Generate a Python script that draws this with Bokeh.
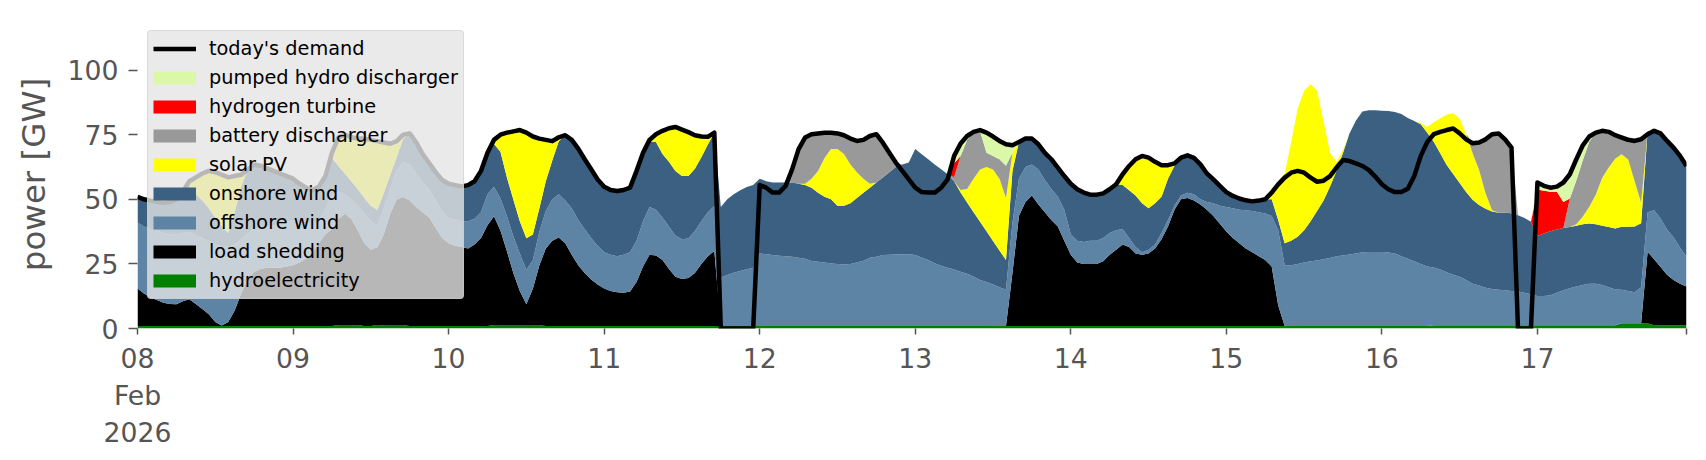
import pandas as pd
from bokeh.plotting import figure
from bokeh.models import Legend, LegendItem, FixedTicker, ColumnDataSource, Range1d
from bokeh.embed import file_html
from bokeh.resources import INLINE

# hourly values, 8 Feb 2026 00:00 .. 17 Feb 2026 23:00 (GW), one row per day
demand = [
    51, 50, 49.5, 49, 48.7, 49, 50, 53, 57, 58.5, 60, 61, 60.5, 59.5, 58.5, 59, 59.5, 61.5, 63.5, 63, 62, 61, 60, 59,
    58, 56, 54.5, 53.5, 55, 59, 68, 74, 75, 74, 73.5, 73.5, 73, 72.5, 72, 71.5, 72.5, 75, 75.5, 72, 67.5, 64, 60.5, 57.5,
    56, 55.5, 55, 55.5, 57, 61, 68, 73, 75, 75.8, 76.3, 76.8, 75.8, 74.3, 73.5, 73, 72.5, 74, 74.8, 73, 69.6, 65.5, 61.6, 57.7,
    54.9, 53.6, 53.2, 53.6, 54.5, 61, 68, 73, 75.2, 76.5, 77.5, 78, 77, 76, 74.8, 74.3, 74.2, 75.8, 0, 0, 0, 0, 0, 0,
    55.5, 54.5, 52.6, 52.6, 55.2, 61.6, 69.4, 73.9, 75.2, 75.5, 75.8, 75.8, 75.5, 74.8, 73.5, 72.6, 73, 74.5, 75.2, 71.9, 68, 64.2, 61, 57.7,
    54.5, 52.8, 52.6, 52.6, 54.5, 57.7, 66.8, 71.6, 74.5, 76.1, 76.8, 75.8, 74.3, 72.6, 71.3, 70.9, 72.2, 73.5, 73.5, 71.3, 68, 65.5, 62.3, 59,
    56, 53.9, 52.6, 51.8, 51.8, 52.3, 53.9, 55.8, 59.7, 62.9, 65.5, 66.8, 66.1, 64.5, 63.2, 63.2, 63.9, 66.1, 67, 66, 63.5, 60, 57.7, 55.2,
    52.8, 51.3, 50.3, 49.6, 49.2, 49.5, 50, 52.6, 55.8, 58.4, 60.3, 61, 60.3, 58.4, 56.8, 57.2, 59, 62.3, 65.2, 64.8, 63.9, 62.9, 61.3, 58.7,
    55.8, 53.9, 52.8, 52.8, 54.1, 59, 66.8, 72.2, 75.2, 76.1, 76.8, 77.4, 75.5, 73.2, 71.7, 72, 73.2, 75.2, 75.5, 73.2, 70, 0, 0, 0,
    56.5, 55.2, 54.5, 54.9, 56.5, 59.7, 65.5, 70.9, 74.3, 75.8, 76.5, 76.1, 74.8, 73.9, 73, 72.6, 73.2, 75.2, 76.5, 75.5, 72.6, 70, 66.8, 62.9,
]

hydroelectricity = [
    1, 1, 1, 1, 1, 1, 1, 1, 1, 1, 1, 1, 1, 1, 1, 1, 1, 1, 1, 1, 1, 1, 1, 1,
    1, 1, 1, 1, 1, 1, 1, 1.4, 1.4, 1.4, 1.4, 1, 1, 1.4, 1.4, 1.4, 1.4, 1.4, 1, 1, 1, 1, 1, 1,
    1, 1, 1, 1, 1, 1, 1, 1.4, 1.4, 1.4, 1.4, 1.4, 1.4, 1.4, 1.4, 1, 1, 1, 1, 1, 1, 1, 1, 1,
    1, 1, 1, 1, 1, 1, 1, 1, 1, 1, 1, 1, 1, 1, 1, 1, 1, 1, 1, 1, 1, 1, 1, 1,
    1, 1, 1, 1, 1, 1, 1, 1, 1, 1, 1, 1, 1, 1, 1, 1, 1, 1, 1, 1, 1, 1, 1, 1,
    1, 1, 1, 1, 1, 1, 1, 1, 1, 1, 1, 1, 1, 1, 1, 1, 1, 1, 1, 1, 1, 1, 1, 1,
    1, 1, 1, 1, 1, 1, 1, 1, 1, 1, 1, 1, 1, 1, 1, 1, 1, 1, 1, 1, 1, 1, 1, 1,
    1, 1, 1, 1, 1, 1, 1, 1, 1, 1, 1, 1, 1, 1, 1, 1, 1, 1, 1, 1, 1, 1, 1, 1,
    1, 1, 1, 1, 1, 1, 1, 1, 1.3, 1.3, 1.3, 1.3, 1.3, 1.3, 1.3, 1.3, 1.3, 1.3, 1.3, 1.3, 1.3, 1.3, 1.3, 1.3,
    1.3, 1.3, 1.3, 1.3, 1.3, 1.3, 1.3, 1.3, 1.3, 1.3, 1.3, 1.3, 1.3, 2, 2, 2, 2, 2, 1.3, 1.3, 1.3, 1.3, 1.3, 1.3,
]

load_shedding = [
    14.5, 12.5, 11, 10, 9, 8.5, 8.4, 9.5, 10.3, 8.5, 6.5, 4.5, 1.5, 0.2, 1.5, 6, 12.5, 18, 21, 22, 22.5, 22.5, 22.5, 23,
    23.5, 24.5, 26, 28.5, 32, 35.5, 37.5, 41, 43, 41, 36.5, 32, 29.5, 30, 35, 43, 48.5, 49.5, 48.5, 46, 44, 42, 38, 34,
    32, 31, 30.5, 30, 31.5, 34, 39, 42, 36.5, 28.5, 20, 13, 8, 14, 23, 30, 33, 34.2, 32, 27.5, 23.5, 20.5, 18, 16,
    14.5, 13.5, 13, 12.8, 13.3, 17, 23, 27.5, 27.3, 25.5, 22, 19, 18.2, 18.5, 20.5, 24, 27, 29, 0, 0, 0, 0, 0, 0,
    0, 0, 0, 0, 0, 0, 0, 0, 0, 0, 0, 0, 0, 0, 0, 0, 0, 0, 0, 0, 0, 0, 0, 0,
    0, 0, 0, 0, 0, 0, 0, 0, 0, 0, 0, 0, 0, 0, 0, 20.5, 42.5, 48, 50.5, 47, 44, 41, 38.5, 33,
    27.5, 24.5, 24, 24, 24, 25, 27.5, 29.5, 31.5, 30.5, 28, 27.5, 28, 30, 33.5, 38.5, 45, 49, 49.5, 48.5, 47, 45, 42.5, 39.5,
    36.5, 34, 32, 30, 28.5, 27, 25.5, 23, 8, 0, 0, 0, 0, 0, 0, 0, 0, 0, 0, 0, 0, 0, 0, 0,
    0, 0, 0, 0, 0, 0, 0, 0, 0, 0, 0, 0, 0, 0, 0, 0, 0, 0, 0, 0, 0, 0, 0, 0,
    0, 0, 0, 0, 0, 0, 0, 0, 0, 0, 0, 0, 0, 0, 0, 0, 0, 27.7, 25.5, 22.5, 19.5, 17.5, 16, 15,
]

offshore_wind = [
    25.5, 26, 26.5, 27, 27, 27, 27, 26.5, 26, 26.5, 27.5, 28.5, 30, 30.5, 29, 25.5, 21, 18, 16.5, 16, 16, 16.5, 17, 17,
    17.5, 15.5, 13.5, 11, 9, 9.5, 13.5, 10.5, 7.5, 7.5, 9.5, 11.5, 11, 8.5, 10, 9.5, 11.5, 13.5, 14, 13, 11.5, 11, 10.5, 10.5,
    10, 10, 10, 10.5, 10, 10, 12, 11.5, 12.5, 13.5, 14.2, 14.5, 13.3, 11, 13, 14.5, 16, 16.8, 16.5, 18, 17.5, 17, 16, 15,
    14, 14, 14, 14.7, 15.2, 16, 17.5, 18.5, 17.7, 16.5, 16.5, 16, 15.3, 15.3, 16.2, 16.5, 17, 17.4, 18.7, 19.7, 20.6, 21.3, 21.9, 22.5,
    28, 27.7, 27.4, 27.2, 27, 26.8, 26.4, 26, 25.1, 24.8, 24.5, 24.2, 24, 23.8, 24, 24.5, 25.2, 26.4, 26.8, 27.4, 27.5, 27.6, 27.7, 27.7,
    27.4, 26.5, 25.5, 24.3, 23.3, 22.5, 21.8, 21, 20.2, 19, 17.8, 17, 16, 15, 14, 19.5, 14.5, 13.5, 12, 13.5, 12.5, 12, 11.5, 12,
    8, 8.5, 8.5, 9, 9, 9, 8.5, 7.5, 6, 3.5, 2.5, 1, 1.5, 1.5, 2.5, 2.5, 1.5, 1.5, 2, 2.5, 2, 3, 5, 7,
    9.5, 11.5, 13, 14.8, 16, 17, 18, 19.5, 29, 23.5, 23.5, 24, 24.5, 25, 25.3, 25.8, 26.3, 27, 27.3, 27.6, 28, 28.5, 28.6, 28.6,
    28.6, 28.4, 28, 27, 26, 25, 24, 23, 22.3, 21.5, 20.5, 19.5, 18.7, 17.5, 16, 15.3, 14.5, 14, 13.7, 13.5, 13.2, 13, 12.5, 12,
    11.3, 11.3, 11.6, 12.5, 13.5, 14.3, 15, 15.5, 16, 16, 15.5, 14.7, 13.8, 13, 12.5, 12, 14, 15.3, 19, 18.8, 17.5, 16.5, 14, 11.5,
]

onshore_wind = [
    10, 10.5, 11, 11, 11.7, 12.5, 13.6, 16, 17.7, 16, 14.5, 12.5, 10.5, 7.8, 5.5, 12.5, 20.5, 24.5, 25, 24, 22.5, 21, 19.5, 18,
    16, 15, 14, 13, 13, 13, 14, 10, 8, 7, 6.5, 6, 6, 6, 6, 5.5, 5, 9, 12, 12, 11, 10, 11, 12,
    13, 13.5, 13.5, 14, 14.5, 16, 16, 16.5, 18, 15, 14.2, 12.5, 12.2, 10, 9, 11.5, 15, 20.5, 25.3, 26.5, 27.6, 27, 26.6, 25.7,
    25.4, 25.1, 25.2, 25.1, 25, 27, 26.5, 25.5, 26.2, 24.5, 25, 25, 24.5, 24.2, 24.1, 24.8, 26.2, 28.4, 27.3, 29.3, 30.4, 31.2, 31.9, 32,
    29, 28.3, 28.1, 28.3, 28.5, 28.7, 28.6, 28.5, 28.4, 26.7, 25.5, 24.8, 22.5, 22.7, 23.5, 25, 26.3, 27.1, 28.7, 30, 32, 33.9, 34.8, 35.5,
    41.1, 39.9, 39, 38.2, 37.3, 36.2, 34.2, 30.6, 27.6, 25, 22.5, 19.6, 16.9, 14.2, 11.5, 20, 14.2, 11, 10, 9.8, 10.5, 11.5, 11.3, 13,
    19.5, 19.9, 19.1, 17.8, 17.8, 17.3, 16.9, 17.8, 17, 18.5, 20, 19, 16, 16, 14, 16, 15.5, 14.6, 14.5, 14, 13.5, 11, 9.2, 7.7,
    5.8, 4.8, 4.3, 3.8, 3.7, 4.5, 5.5, 6.5, 4, 8.5, 9.5, 10.5, 12.5, 15.5, 19.2, 22.7, 27.7, 33, 39.7, 46.9, 51.5, 54.5, 54.9, 54.9,
    54.7, 54.8, 54.8, 55, 54.5, 54.3, 54, 51.8, 48.7, 45, 41.5, 39, 36.3, 34, 32.5, 31.2, 30.5, 30, 29.8, 30, 30.1, 29.5, 29, 28,
    23.2, 24.2, 24.7, 24.5, 24.1, 23.7, 23.5, 23.5, 23.3, 23, 23, 23.3, 23.6, 24.4, 24.9, 25.5, 24.7, 31.2, 31, 33.2, 34.6, 35, 35.8, 35.4,
]

solar_pv = [
    0, 0, 0, 0, 0, 0, 0, 0, 2, 6.5, 10.5, 14.5, 17.5, 20, 21.5, 14, 4.5, 0, 0, 0, 0, 0, 0, 0,
    0, 0, 0, 0, 0, 0, 2, 11.5, 15.5, 17.5, 20, 23, 25.5, 27, 20, 12.5, 6.5, 2, 0, 0, 0, 0, 0, 0,
    0, 0, 0, 0, 0, 0, 0, 2, 7, 17.8, 27, 35.8, 41.3, 38.3, 27.5, 16, 7.5, 1.5, 0, 0, 0, 0, 0, 0,
    0, 0, 0, 0, 0, 0, 0, 0.5, 3, 9, 13, 17, 18, 17, 13, 8, 3, 0, 0, 0, 0, 0, 0, 0,
    0, 0, 0, 0, 0, 0, 0, 0.5, 3.5, 8.5, 15, 19.5, 22, 20, 15, 10, 5.5, 1.5, 0, 0, 0, 0, 0, 0,
    0, 0, 0, 0, 0, 0, 0, 1, 5.2, 13, 20.2, 24.9, 27.6, 27.8, 24, 7, 0, 0, 0, 0, 0, 0, 0, 0,
    0, 0, 0, 0, 0, 0, 0, 0, 4.2, 9.4, 14, 18.3, 19.6, 16, 12.2, 5.2, 0.9, 0, 0, 0, 0, 0, 0, 0,
    0, 0, 0, 0, 0, 0, 0, 2.6, 14.5, 27, 38, 49.5, 54, 53, 46.5, 30.5, 13, 3.5, 1, 0, 0, 0, 0, 0,
    0, 0, 0, 0, 0, 0, 0.5, 2.2, 7.5, 13.5, 19.5, 23.5, 25, 22.5, 18, 13.5, 6, 0.5, 0, 0, 0, 0, 0, 0,
    0, 0, 0, 0, 0, 0, 0.5, 3, 6.5, 11.5, 18.5, 23, 27, 28, 26, 17.5, 8, 0, 0, 0, 0, 0, 0, 0,
]

battery_discharger = [
    0, 0, 0, 0, 0, 0, 0, 0, 0, 0, 0, 0, 0, 0, 0, 0, 0, 0, 0, 0, 0, 0, 0, 0,
    0, 0, 0, 0, 0, 0, 0, 0, 0, 0, 0, 0, 0, 0, 0, 0, 0, 0, 0, 0, 0, 0, 0, 0,
    0, 0, 0, 0, 0, 0, 0, 0, 0, 0, 0, 0, 0, 0, 0, 0, 0, 0, 0, 0, 0, 0, 0, 0,
    0, 0, 0, 0, 0, 0, 0, 0, 0, 0, 0, 0, 0, 0, 0, 0, 0, 0, 0, 0, 0, 0, 0, 0,
    0, 0, 0, 0, 0, 5.1, 13.4, 17.9, 17.2, 14.5, 9.8, 6.3, 6, 7.3, 10, 12.1, 15, 18.5, 18.7, 13.5, 7.5, 1.7, 0, 0,
    0, 0, 0, 0, 0, 0, 1.5, 13.2, 19, 18.1, 14.8, 5.5, 5.3, 7.5, 12.5, 0, 0, 0, 0, 0, 0, 0, 0, 0,
    0, 0, 0, 0, 0, 0, 0, 0, 0, 0, 0, 0, 0, 0, 0, 0, 0, 0, 0, 0, 0, 0, 0, 0,
    0, 0, 0, 0, 0, 0, 0, 0, 0, 0, 0, 0, 0, 0, 0, 0, 0, 0, 0, 0, 0, 0, 0, 0,
    0, 0, 0, 0, 0, 0, 0, 0, 0, 0, 0, 0, 0, 0, 4.2, 11, 21.2, 29.7, 31, 28.7, 25.7, 0, 0, 0,
    0, 0, 0, 0, 0, 11, 17, 21.8, 25.2, 24.3, 17.5, 14.1, 9.4, 7.5, 8.6, 16.6, 25.5, 0, 0, 0, 0, 0, 0, 0,
]

hydrogen_turbine = [
    0, 0, 0, 0, 0, 0, 0, 0, 0, 0, 0, 0, 0, 0, 0, 0, 0, 0, 0, 0, 0, 0, 0, 0,
    0, 0, 0, 0, 0, 0, 0, 0, 0, 0, 0, 0, 0, 0, 0, 0, 0, 0, 0, 0, 0, 0, 0, 0,
    0, 0, 0, 0, 0, 0, 0, 0, 0, 0, 0, 0, 0, 0, 0, 0, 0, 0, 0, 0, 0, 0, 0, 0,
    0, 0, 0, 0, 0, 0, 0, 0, 0, 0, 0, 0, 0, 0, 0, 0, 0, 0, 0, 0, 0, 0, 0, 0,
    0, 0, 0, 0, 0, 0, 0, 0, 0, 0, 0, 0, 0, 0, 0, 0, 0, 0, 0, 0, 0, 0, 0, 0,
    0, 0, 0, 0, 0, 0, 5.5, 0, 0, 0, 0, 0, 0, 0, 0, 0, 0, 0, 0, 0, 0, 0, 0, 0,
    0, 0, 0, 0, 0, 0, 0, 0, 0, 0, 0, 0, 0, 0, 0, 0, 0, 0, 0, 0, 0, 0, 0, 0,
    0, 0, 0, 0, 0, 0, 0, 0, 0, 0, 0, 0, 0, 0, 0, 0, 0, 0, 0, 0, 0, 0, 0, 0,
    0, 0, 0, 0, 0, 0, 0, 0, 0, 0, 0, 0, 0, 0, 0, 0, 0, 0, 0, 0, 0, 0, 0, 0,
    18, 16.5, 15.3, 14.6, 10.1, 0, 0, 0, 0, 0, 0, 0, 0, 0, 0, 0, 0, 0, 0, 0, 0, 0, 0, 0,
]

pumped_hydro_discharger = [
    0, 0, 0, 0, 0, 0, 0, 0, 0, 0, 0, 0, 0, 0, 0, 0, 0, 0, 0, 0, 0, 0, 0, 0,
    0, 0, 0, 0, 0, 0, 0, 0, 0, 0, 0, 0, 0, 0, 0, 0, 0, 0, 0, 0, 0, 0, 0, 0,
    0, 0, 0, 0, 0, 0, 0, 0, 0, 0, 0, 0, 0, 0, 0, 0, 0, 0, 0, 0, 0, 0, 0, 0,
    0, 0, 0, 0, 0, 0, 0, 0, 0, 0, 0, 0, 0, 0, 0, 0, 0, 0, 0, 0, 0, 0, 0, 0,
    0, 0, 0, 0, 0, 0, 0, 0, 0, 0, 0, 0, 0, 0, 0, 0, 0, 0, 0, 0, 0, 0, 0, 0,
    0, 0, 0, 0, 0, 0, 2.8, 4.8, 1.5, 0, 0.5, 7.8, 7.5, 7.1, 8.3, 2.9, 0, 0, 0, 0, 0, 0, 0, 0,
    0, 0, 0, 0, 0, 0, 0, 0, 0, 0, 0, 0, 0, 0, 0, 0, 0, 0, 0, 0, 0, 0, 0, 0,
    0, 0, 0, 0, 0, 0, 0, 0, 0, 0, 0, 0, 0, 0, 0, 0, 0, 0, 0, 0, 0, 0, 0, 0,
    0, 0, 0, 0, 0, 0, 0, 0, 0, 0, 0, 0, 0, 0, 0, 0, 0, 0, 0, 0, 0, 0, 0, 0,
    3, 2.2, 1.9, 2.3, 7.8, 9.7, 8.5, 6.1, 2.3, 0, 1, 0, 0, 0, 0, 0, 0, 0, 0, 0, 0, 0, 0, 0,
]

# stacking order bottom -> top
carriers = ["hydroelectricity", "load shedding", "offshore wind", "onshore wind",
            "solar PV", "battery discharger", "hydrogen turbine", "pumped hydro discharger"]
colors = ["#008000", "#000000", "#5d83a5", "#3b6082",
          "#ffff00", "#999999", "#ff0000", "#daf8a8"]
series = [hydroelectricity, load_shedding, offshore_wind, onshore_wind,
          solar_pv, battery_discharger, hydrogen_turbine, pumped_hydro_discharger]

times = pd.date_range("2026-02-08 00:00", periods=len(demand), freq="h")
data = {"x": times, "demand": demand}
keys = []
for i, s in enumerate(series):
    k = "s%d" % i
    keys.append(k)
    data[k] = s
src = ColumnDataSource(data)

p = figure(x_axis_type="datetime", output_backend="svg", toolbar_location=None,
           frame_width=1549, frame_height=308,
           min_border_left=137, min_border_top=20, min_border_right=10, min_border_bottom=110,
           x_range=Range1d(times[0], times[-1]), y_range=Range1d(0, 119.2),
           background_fill_color="white", border_fill_color="white", outline_line_color=None)

p.varea_stack(stackers=keys, x="x", color=colors, source=src)
dl = p.line("x", "demand", source=src, line_color="black", line_width=4.5, line_join="round")

# legend (patch swatches drawn by thick, off-screen line renderers)
nan = float("nan")
items = [LegendItem(label="today's demand", renderers=[dl])]
for lab, col in reversed(list(zip(carriers, colors))):
    r = p.line(x=[times[0], times[0]], y=[nan, nan], line_color=col, line_width=13, line_cap="butt")
    items.append(LegendItem(label=lab, renderers=[r]))

legend = Legend(items=items, location="top_left", margin=10, padding=5, spacing=4,
                glyph_width=43, glyph_height=25, label_height=25, label_standoff=13,
                label_text_font="DejaVu Sans", label_text_font_size="19.3px", label_text_color="black",
                background_fill_color="#e5e5e5", background_fill_alpha=0.8,
                border_line_color="#cccccc", border_line_width=1)
try:
    legend.border_radius = 4
except Exception:
    pass
p.add_layout(legend)

p.xgrid.visible = False
p.ygrid.visible = False

tick_color = "#555555"
p.yaxis.ticker = FixedTicker(ticks=[0, 25, 50, 75, 100])
p.yaxis.axis_label = "power [GW]"
p.yaxis.axis_label_text_font = "DejaVu Sans"
p.yaxis.axis_label_text_font_size = "32.5px"
p.yaxis.axis_label_text_font_style = "normal"
p.yaxis.axis_label_text_color = tick_color
p.yaxis.axis_label_standoff = 12
p.yaxis.major_label_text_font = "DejaVu Sans"
p.yaxis.major_label_text_font_size = "26.7px"
p.yaxis.major_label_text_color = tick_color
p.yaxis.major_label_standoff = 10
p.yaxis.major_tick_out = 9
p.yaxis.major_tick_in = 0
p.yaxis.major_tick_line_color = tick_color
p.yaxis.major_tick_line_width = 1.5
p.yaxis.minor_tick_line_color = None
p.yaxis.axis_line_color = None

day_labels = ["08\nFeb\n2026", "09", "10", "11", "12", "13", "14", "15", "16", "17"]
ticks = []
overrides = {}
for d, lab in enumerate(day_labels):
    ms = int(times[d * 24].value // 10**6)
    ticks.append(ms)
    overrides[ms] = lab
end_ms = int(times[-1].value // 10**6)
ticks.append(end_ms)
overrides[end_ms] = ""
p.xaxis.ticker = FixedTicker(ticks=ticks)
p.xaxis.major_label_overrides = overrides
p.xaxis.major_label_text_font = "DejaVu Sans"
p.xaxis.major_label_text_font_size = "26.7px"
p.xaxis.major_label_text_color = tick_color
p.xaxis.major_label_standoff = 8
p.xaxis.major_tick_out = 6
p.xaxis.major_tick_in = 0
p.xaxis.major_tick_line_color = tick_color
p.xaxis.major_tick_line_width = 1.5
p.xaxis.minor_tick_line_color = None
p.xaxis.axis_line_color = None

open("out.html", "w").write(file_html(p, INLINE))
